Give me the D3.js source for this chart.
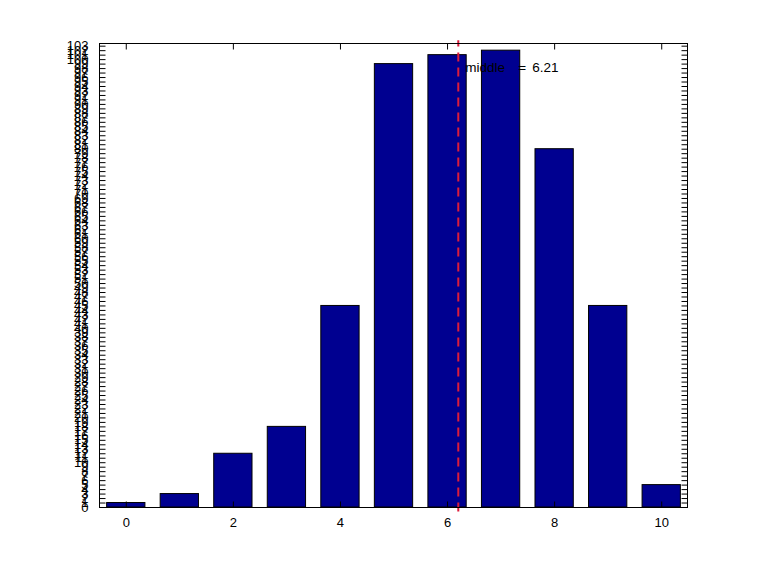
<!DOCTYPE html>
<html><head><meta charset="utf-8">
<script src="https://cdn.jsdelivr.net/npm/d3@7"></script>
<style>
html,body{margin:0;padding:0;background:#fff;}
text{font-family:"Liberation Sans",Arial,Helvetica,sans-serif;}
</style></head>
<body>
<svg id="chart" width="760" height="570"></svg>
<script>
const categories = [0,1,2,3,4,5,6,7,8,9,10];
const counts = [1,3,12,18,45,99,101,102,80,45,5];
const xTickLabels = [0,2,4,6,8,10];
const yTickLabels = d3.range(0,104);
const middleValue = 6.21;
const middleParts = ["middle", "=", "6.21"];

(function(){
const svg = d3.select("#chart");
const pL = 99, pR = 688, pT = 43, pB = 507;
const x = d3.scaleLinear().domain([-0.5,10.5]).range([pL,pR]);
const y = d3.scaleLinear().domain([0,103.6]).range([pB,pT]);
const barW = x(0.715)-x(0);

svg.append("g").selectAll("rect").data(categories).join("rect")
  .attr("x", (d,i)=>x(d)-barW/2)
  .attr("y", (d,i)=>y(counts[i]))
  .attr("width", barW)
  .attr("height", (d,i)=>y(0)-y(counts[i]))
  .attr("fill","#000090")
  .attr("stroke","#000")
  .attr("stroke-width",1);

svg.append("line")
  .attr("x1", x(middleValue)).attr("x2", x(middleValue))
  .attr("y1", y(-1)).attr("y2", y(104.2))
  .attr("stroke","#dd1c3c").attr("stroke-width",2)
  .attr("stroke-dasharray","9,6");

const offs = [7, 60, 74];
const t = svg.append("text")
  .attr("y", y(98.5)+6)
  .attr("font-size","13.5px").attr("fill","#000");
middleParts.forEach((p,i)=>{
  t.append("tspan").attr("x", x(middleValue)+offs[i]).text(p);
});

const tl = 6;
svg.append("rect").attr("fill","none").attr("stroke","#000")
  .attr("x",pL+0.5).attr("y",pT+0.5).attr("width",pR-pL-1).attr("height",pB-pT);

const xAxB = d3.axisBottom(x).tickValues(xTickLabels).tickSizeInner(-tl).tickSizeOuter(0).tickPadding(10).tickFormat(d3.format("d"));
const xg = svg.append("g").attr("transform",`translate(0,${pB+0.5})`).call(xAxB);
xg.select(".domain").remove();
xg.selectAll("text").attr("font-size","13px").attr("font-family","Liberation Sans, Arial, sans-serif").attr("fill","#000");
const xAxT = d3.axisTop(x).tickValues(xTickLabels).tickSizeInner(-tl).tickSizeOuter(0).tickFormat("");
const xgt = svg.append("g").attr("transform",`translate(0,${pT+0.5})`).call(xAxT);
xgt.select(".domain").remove();

const yAxL = d3.axisLeft(y).tickValues(yTickLabels).tickSizeInner(-tl).tickSizeOuter(0).tickPadding(11).tickFormat(d3.format("d"));
const yg = svg.append("g").attr("transform",`translate(${pL+0.5},0)`).call(yAxL);
yg.select(".domain").remove();
yg.selectAll("text").attr("font-size","13px").attr("font-family","Liberation Sans, Arial, sans-serif").attr("fill","#000");
const yAxR = d3.axisRight(y).tickValues(yTickLabels).tickSizeInner(-tl).tickSizeOuter(0).tickFormat("");
const ygr = svg.append("g").attr("transform",`translate(${pR-0.5},0)`).call(yAxR);
ygr.select(".domain").remove();
svg.selectAll(".tick line").attr("stroke","#000");
})();
</script>
</body></html>
